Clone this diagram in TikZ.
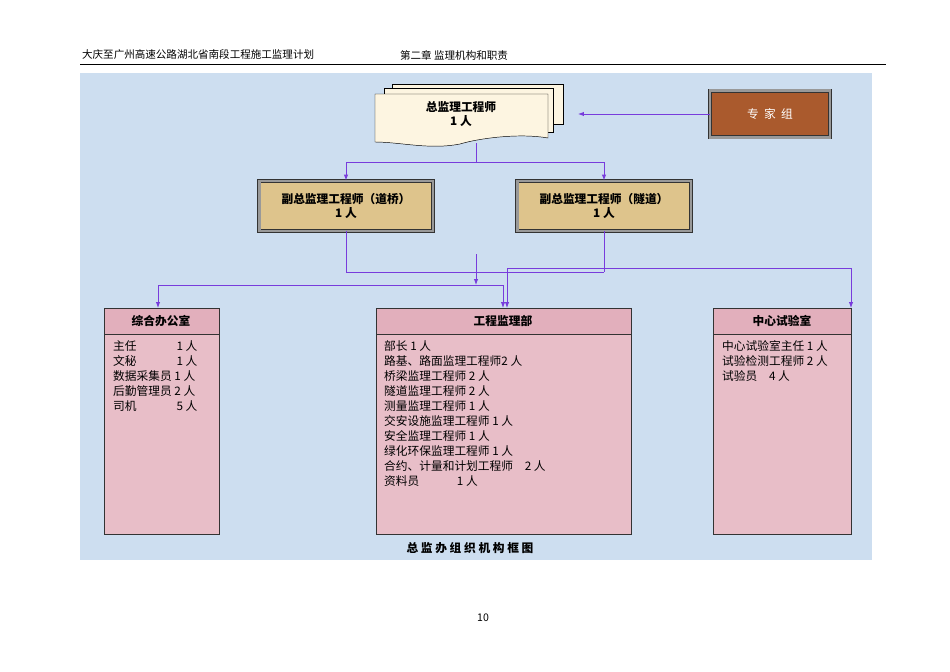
\documentclass[tikz,border=0pt]{standalone}
\usepackage{fontspec}
\setmainfont{Noto Sans CJK SC}
\usetikzlibrary{arrows.meta, positioning}
\definecolor{bgblue}{RGB}{205,222,240}
\definecolor{wood}{RGB}{222,196,140}
\definecolor{darkwood}{RGB}{170,90,45}
\definecolor{paper}{RGB}{253,245,225}
\definecolor{pinkbox}{RGB}{232,190,200}
\definecolor{pinkhead}{RGB}{226,175,188}
\definecolor{wire}{RGB}{120,60,220}
\begin{document}
\begin{tikzpicture}[
    x=0.03cm, y=-0.03cm,
    font=\fontsize{9}{10}\selectfont,
    bevel/.style={draw=black!80, fill=wood, line width=0.8pt, text centered,
    minimum height=1.5cm, minimum width=5.2cm, align=center,
    double=black!40, double distance=2pt},
    expert/.style={bevel, fill=darkwood, text=white, minimum width=3.6cm,
    minimum height=1.4cm},
    dept/.style={draw=black!80, fill=pinkbox, thick, anchor=north west},
    head/.style={font=\fontsize{10}{12}\selectfont\bfseries},
    staff/.style={anchor=north west, align=left, inner sep=0pt,
    font=\fontsize{10}{12.8}\selectfont},
    wire/.style={draw=wire, thick},
    arrow/.style={wire, -{Latex[length=5pt]}}
    ]
    \useasboundingbox (0,0) rectangle (950,672);
    % page header
    \node[anchor=west] (title) at (78,55) {大庆至广州高速公路湖北省南段工程施工监理计划};
    \node[anchor=west] (chap)  at (396,55) {第二章\ 监理机构和职责};
    \draw (80,64) -- (886,64);
    \node (page) at (483,618) {10};
    \fill[bgblue] (80,73) rectangle (872,560);

    % chief engineer (stacked pages)
    \draw[fill=paper] (392,84) rectangle (563,124);
    \draw[fill=paper] (384,88) rectangle (553,132);
    \draw[fill=paper] (375,94) -- (548,94) -- (548,138)
        .. controls (520,133) and (480,138) .. (460,144)
        .. controls (430,150) and (400,142) .. (375,142) -- cycle;
    \node[align=center, font=\fontsize{10}{12}\selectfont\bfseries] (chief)
        at (461,114) {总监理工程师\\1 人};
    \coordinate (chiefS) at (476,143);
    \coordinate (chiefE) at (578,114);

    \node[expert, font=\fontsize{10}{12}\selectfont] (expert) at (770,114) {专\ \ 家\ \ 组};
    \node[bevel, font=\fontsize{10}{12}\selectfont\bfseries] (road)   at (346,206) {副总监理工程师（道桥）\\1 人};
    \node[bevel, font=\fontsize{10}{12}\selectfont\bfseries] (tunnel) at (604,206) {副总监理工程师（隧道）\\1 人};

    % departments
    \draw[dept] (104,308) rectangle (219,534);
    \draw[dept, fill=pinkhead] (104,308) rectangle (219,334);
    \node[head] (office) at (161,321) {综合办公室};
    \draw[dept] (376,308) rectangle (631,534);
    \draw[dept, fill=pinkhead] (376,308) rectangle (631,334);
    \node[head] (works) at (503,321) {工程监理部};
    \draw[dept] (713,308) rectangle (851,534);
    \draw[dept, fill=pinkhead] (713,308) rectangle (851,334);
    \node[head] (lab) at (782,321) {中心试验室};

    \node[staff] (officeS) at (113,340) {主任\hspace{3.4em}1 人\\文秘\hspace{3.4em}1 人\\数据采集员 1 人\\后勤管理员 2 人\\司机\hspace{3.4em}5 人};
    \node[staff] (worksS) at (384,340) {部长 1 人\\路基、路面监理工程师2 人\\桥梁监理工程师 2 人\\隧道监理工程师 2 人\\测量监理工程师 1 人\\交安设施监理工程师 1 人\\安全监理工程师 1 人\\绿化环保监理工程师 1 人\\合约、计量和计划工程师\quad 2 人\\资料员\hspace{3.2em}1 人};
    \node[staff] (labS) at (722,340) {中心试验室主任 1 人\\试验检测工程师 2 人\\试验员\quad 4 人};

    \node[font=\fontsize{10}{12}\selectfont\bfseries] (caption) at (470,548) {总 监 办 组 织 机 构 框 图};

    % connectors
    \draw[arrow] (expert.west) -- (chiefE);
    \draw[wire] (chiefS) -- (476,162) -- (346,162);
    \draw[arrow] (346,162) -- (road.north);
    \draw[arrow] (476,162) -- (604,162) -- (tunnel.north);
    \draw[wire] (road.south) -- (346,272) -- (604,272);
    \draw[wire] (tunnel.south) -- (604,272);
    \draw[arrow] (476,254) -- (476,285);
    \draw[wire] (158,285) -- (503,285);
    \draw[arrow] (158,285) -- (158,308);
    \draw[arrow] (503,285) -- (503,308);
    \draw[wire] (507,268) -- (851,268);
    \draw[arrow] (507,268) -- (507,308);
    \draw[arrow] (851,268) -- (851,308);
\end{tikzpicture}
\end{document}
